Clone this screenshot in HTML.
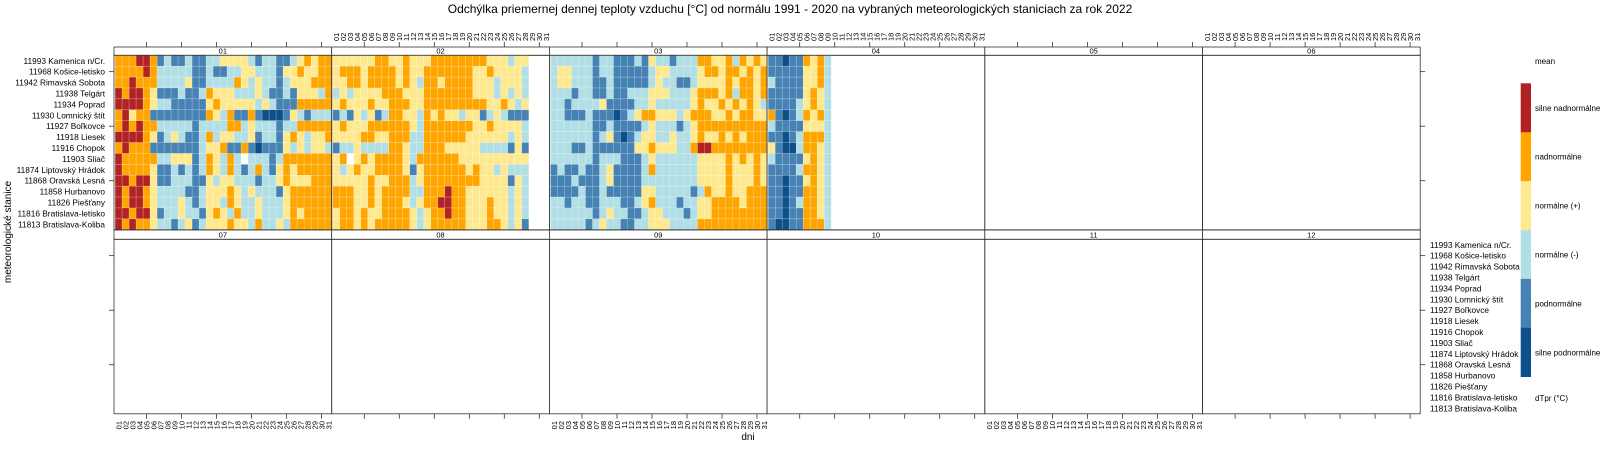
<!DOCTYPE html>
<html><head><meta charset="utf-8">
<style>
html,body{margin:0;padding:0;background:#fff;}
svg{display:block;font-family:"Liberation Sans",sans-serif;}
</style></head>
<body>
<svg id="chart" width="1600" height="457" viewBox="0 0 1600 457" xmlns="http://www.w3.org/2000/svg">
<text x="790" y="13" font-size="12" text-anchor="middle">Odchýlka priemernej dennej teploty vzduchu [°C] od normálu 1991 - 2020 na vybraných meteorologických staniciach za rok 2022</text>
<text transform="translate(11,232) rotate(-90)" font-size="10" text-anchor="middle">meteorologické stanice</text>
<text x="748" y="440" font-size="10" text-anchor="middle">dni</text>
<g id="layer"></g>
</svg>
<script>
const stations = ["11993 Kamenica n/Cr.","11968 Košice-letisko","11942 Rimavská Sobota","11938 Telgárt","11934 Poprad","11930 Lomnický štít","11927 Boľkovce","11918 Liesek","11916 Chopok","11903 Sliač","11874 Liptovský Hrádok","11868 Oravská Lesná","11858 Hurbanovo","11826 Piešťany","11816 Bratislava-letisko","11813 Bratislava-Koliba"];
const monthLabels = ["01","02","03","04","05","06","07","08","09","10","11","12"];
const categoryNames = ["silne podnormálne","podnormálne","normálne (-)","normálne (+)","nadnormálne","silne nadnormálne"];
// category codes per day: D=1 silne podnormalne, B=2, L=3, Y=4, O=5, R=6, W=missing
const janData = [
"OOORROBLBBLBBLLYYYYLBLLBBLYOYOO","OOOOROLLLLLBBLBBLLYYLLLBYYOYYOO","OOROOOLLLLYBBLLLLOYLYLLBLYYYOOO","RORROYBBBLBBLOYYYLLLYLBBLBYYYLO",
"RRRROYLLBBBBBYOYYYYYLYLBBBOOOOO","ORYOOBBBBBBBBOYLOBBOBDDDBYLBLLL","OROROOLLLLLBLLLLOOLYLLLBLLOOOOO","RRRROYBLYLBBLOLYYLLYBLLBYOYLYYO",
"OROOOBBBBBBBLYYOBBOBDBBBYLYLYYL","ROOOOOLLYYYBLOYLOLWLLLBLOOOOOOO","ROOOOYBBLBLBLOYLOLBLOLBYOYOOOOO","RRORRYBBLLLBBYLYYLLLBLLYOYYYOOO",
"RORROYLLLLBBLYYYOYLYLLLBYOOOOOO","RORROYLLLYLBLYYLOYLLYLLLYOOOOOO","RRORRYBLLYLLBYOYLOLLYLLLYOYOOOO","ROROOYLLBLYBLYYYOYYLOLLYLOOOOOO"];
const febData = [
"YYYYYYOOYYOYYYOOOOOOOOYYYLYY","YOOOYOOOOYOYYOOOOOOOYYOYYYYL","YYOOYOOOOYOYLOOYOOOOYYYLYYYL","LYLYYYYOOOYYYOOOOOOOYYYLYLYL",
"YOYYYOYYOOOYYOOOOOOOOOYYOYLY","BLBYLYBLOOYYLOYOYYLYYBLYLBBB","YOYYYOOOOOOYLOOOOOOOYYOYYYYL","YYYYOOYYOOOLLOOOOOOYYYYYYLYL",
"BLLYLLLLOOYLLOOOYYYYYLLLLBYB","YOWYOYOOOOYLOOOOOOYYYYYYYYYY","YLYOYYOOOOYBYOOOOOOYOYYLYLLL","YYYYYOYYOOOLYOOOOOOOOYYYYBYL",
"OOOYYOYOOOOLLOOOROOYYYYYYLYL","OOOYYOYOOOYLYOORROOYYYOYYLYL","YOOYOYYOOOOYLYOOROOYYYOYYLYL","YOOYOYOOOOOYLYOOOOOYYYOOYLYB"];
const marData = [
"LLLLLLBLLBBBLBYLLBLLLOOYYOLOYOY","LYYLLLBLLBBBBBLYYLLLLYOOYOOYOYO","LYYLLLBBLBBBBBLYLLBBLYYYYOYOOYO","LLLBLLBBLBBLLLYYYLLLYOOOYOLOOYO",
"LLBLLLLYBBBBLLYLLLLLYOYYOYOYOYL","LLBBBLBBBDBLYOOYYYLYOOOYYOYOOYY","LLLLLLBBLBBBBLYLLLBLYOOOOOOOOOO","LLLLLLBLYBDBLYYLLYLLYOYYOYOYOOO",
"LLLBBLBBBBBBYYOYYYLLORROOOOOOOO","LLLLLLBLLLBBBLYLLLLLLYYYYOYOYOY","BLBBLBBLYBBBBLOLLLLLLYYYYOYYYOY","BBBLBBBLYBBBBLLLLLLLLYYYYOYYYOY",
"BBBBLBBLBBBBBYYLLLLLBLOYYOYYOOO","LLBLLBBLLLBBLYOLLLBLLYYOOOOYOOO","LLLLLLBLYLLBBLYYLLLBLYYOOOOOOOO","LLLLLBLYLLBBLLYYYLLLLOOOOOOOOOO"];
const aprData = [
"BBDBBOYOL","BBBBBYYOL","LBBBBYYOL","BBBBBYOYL","BBBBLYOYL","OBDBLOYOL","LBBBBYYYL","BBDBLOOOL",
"YBDDLOOYL","LBBBBYOYL","BBBBLOOYL","BBDBBYOYL","BBDBBOOYL","BBDBLOOYL","BBDBBOOYL","BDDBBOOOL"];
const monthData = [janData, febData, marData, aprData];

const colorOf = {D:"#0d4f8b",B:"#4682b4",L:"#b1dfe5",Y:"#ffe98f",O:"#ffa500",R:"#b22222",W:"#ffffff"};
const legendColors = ["#0d4f8b","#4682b4","#b1dfe5","#ffe98f","#ffa500","#b22222"];

const NS="http://www.w3.org/2000/svg";
const layer=document.getElementById('layer');
function mk(tag,attrs,parent){const e=document.createElementNS(NS,tag);for(const k in attrs)e.setAttribute(k,attrs[k]);(parent||layer).appendChild(e);return e;}

const P0=114, PW=217.7, CW=7.0;
const rowTops=[55.3,239.3], stripTops=[47,230], BODYH=174.5, RH=BODYH/16;
function panelLeft(k){return P0+PW*k;}
function xScale(k,d){return panelLeft(k)+4.6+(d-1)*CW;}
function yScale(r,i){return rowTops[r]+i*RH;}

// panels
for(let m=0;m<12;m++){
  const k=m%6, r=Math.floor(m/6), x=panelLeft(k);
  const g=mk('g',{});
  
  
  const strip=mk('rect',{x:x,y:stripTops[r],width:PW,height:rowTops[r]-stripTops[r],fill:'#fff',stroke:'#333','stroke-width':0.8},g);
  
  
  const st=mk('text',{x:x+PW/2,y:rowTops[r]-1.8,'font-size':7.5,'text-anchor':'middle'},g);
  st.textContent=monthLabels[m];
  
  
}
// cells
monthData.forEach((rows,m)=>{
  const k=m%6, r=Math.floor(m/6);
  rows.forEach((s,i)=>{
    for(let d=1;d<=s.length;d++){
      const c=s[d-1];
      const cell=mk('rect',{x:xScale(k,d)-CW/2,y:yScale(r,i),width:CW,height:RH,fill:colorOf[c],stroke:'rgba(255,255,255,0.35)','stroke-width':0.5});
      
      
    }
  });
});
// panel borders on top of cells
for(let m=0;m<12;m++){
  const k=m%6, r=Math.floor(m/6), x=panelLeft(k);
  const b=mk('rect',{x:x,y:rowTops[r],width:PW,height:BODYH,fill:'none',stroke:'#333','stroke-width':0.8});
  
  
}
// x ticks & labels
for(let k=0;k<6;k++){
  for(let d=5;d<=30;d+=5){
    const x=xScale(k,d);
    const t1=mk('line',{x1:x,x2:x,y1:42,y2:47,stroke:'#333','stroke-width':0.8});
    
    
    const t2=mk('line',{x1:x,x2:x,y1:413.8,y2:418.8,stroke:'#333','stroke-width':0.8});
    
    
  }
  for(let d=1;d<=31;d++){
    const x=xScale(k,d)+2.8;
    const lbl=(d<10?'0':'')+d;
    if(k%2===1){
      const t=mk('text',{transform:`translate(${x},41) rotate(-90)`,'font-size':7.5,'text-anchor':'start'});
      t.textContent=lbl;
      
      
    } else {
      const t=mk('text',{transform:`translate(${x},421) rotate(-90)`,'font-size':7.5,'text-anchor':'end'});
      t.textContent=lbl;
      
      
    }
  }
}
// station labels and y ticks
stations.forEach((s,i)=>{
  const t=mk('text',{x:105,y:yScale(0,i)+RH/2+3,'font-size':8.3,'text-anchor':'end'});
  t.textContent=s;
  
  
  const t2=mk('text',{x:1430,y:yScale(1,i)+RH/2+3,'font-size':8.3,'text-anchor':'start'});
  t2.textContent=s;
  
  
});
[1,6,11].forEach(i=>{
  for(let r=0;r<2;r++){
    const y=yScale(r,i)+RH/2;
    const a=mk('line',{x1:109,x2:114,y1:y,y2:y,stroke:'#333','stroke-width':0.8});
    
    
    const b=mk('line',{x1:1420.2,x2:1425.2,y1:y,y2:y,stroke:'#333','stroke-width':0.8});
    
    
  }
});
// legend
const lt=mk('text',{x:1535,y:64,'font-size':8});
lt.textContent='mean';


const LT=83.3, LH=(376.7-83.3)/6;
for(let j=0;j<6;j++){
  const idx=5-j;
  const seg=mk('rect',{x:1520.7,y:LT+j*LH,width:10.3,height:LH+0.3,fill:legendColors[idx]});
  
  
  const t=mk('text',{x:1535,y:LT+j*LH+LH/2+3,'font-size':8});
  t.textContent=categoryNames[idx];
  
  
}
const lu=mk('text',{x:1535,y:401,'font-size':8});
lu.textContent='dTpr (°C)';


</script>
</body></html>
